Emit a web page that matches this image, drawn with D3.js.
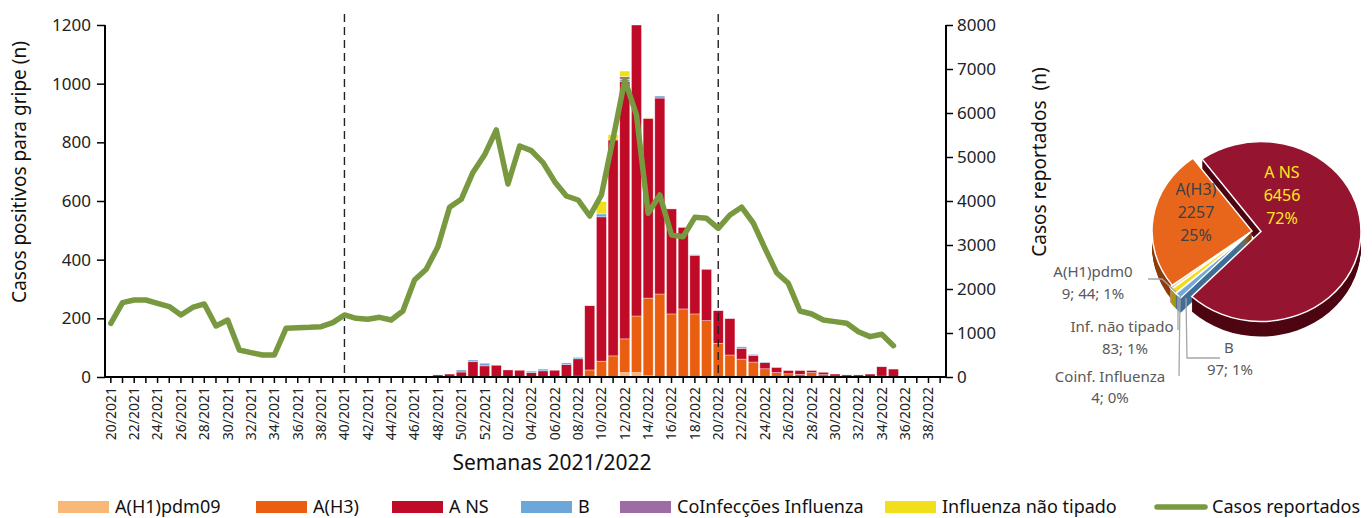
<!DOCTYPE html>
<html>
<head>
<meta charset="utf-8">
<script src="https://cdn.jsdelivr.net/npm/d3@7"></script>
<style>
  body { margin: 0; background: #fff; }
  text { font-family: "Noto Sans", sans-serif; }
</style>
</head>
<body>
<script>
const width = 1372;
const height = 518;

// weeks 20/2021 .. 39/2022
const weeks = [];
for (let w = 20; w <= 52; w++) weeks.push(String(w).padStart(2, "0") + "/2021");
for (let w = 1; w <= 39; w++) weeks.push(String(w).padStart(2, "0") + "/2022");

const keys = ["A(H1)pdm09", "A(H3)", "A NS", "B", "CoInfecções Influenza", "Influenza não tipado"];
const colors = ["#F8B878", "#EA5E10", "#C00B28", "#6DA7DA", "#9E6CA4", "#F2DF1B"];

// values from week index 28 (48/2021) to 67 (35/2022); zero elsewhere
const startIdx = 28;
const h1   = [0,0,0,0,0,0,0,0,0,0,0,0,0,0,0,0,15,15,4,0,0,0,0,0,0,0,0,0,0,0,0,0,0,0,0,0,0,0,0,0];
const h3   = [0,0,0,0,0,0,0,0,0,0,0,0,3,24,54,72,115,193,265,283,215,232,215,192,115,75,61,51,28,15,11,9,15,8,3,0,0,2,3,2];
const ans  = [7,10,17,52,38,40,24,23,15,21,23,42,59,219,492,736,877,992,613,668,358,278,200,175,111,124,37,23,21,18,11,13,7,8,7,7,7,8,32,25];
const bInf = [0,0,7,6,9,0,0,0,5,6,0,6,5,2,10,3,8,0,0,7,0,0,2,0,0,0,5,3,2,1,0,0,0,0,0,0,0,0,0,0];
const coInf= [0,0,0,0,0,0,0,0,0,0,0,0,0,0,0,0,9,0,0,0,0,0,0,0,0,0,0,0,0,0,0,0,0,0,0,0,0,0,0,0];
const naoTip=[0,0,0,0,0,0,0,0,0,0,0,0,0,0,42,15,19,0,2,0,0,0,0,0,0,0,0,0,0,0,0,0,0,0,0,0,0,0,0,0];

// casos reportados, weeks 20/2021 .. 35/2022
const reportados = [1220,1690,1750,1750,1675,1600,1410,1580,1660,1160,1295,614,553,500,500,1106,1121,1129,1144,1235,
  1410,1333,1311,1356,1295,1500,2205,2447,2962,3856,4038,4650,5050,5614,4386,5250,5144,4871,4439,4114,
  4023,3659,4136,5420,6750,5955,3720,4136,3227,3189,3629,3606,3379,3682,3860,3500,2924,2371,2129,1500,
  1432,1295,1258,1220,1030,917,970,712];

const leftTicks = [0, 200, 400, 600, 800, 1000, 1200];
const rightTicks = [0, 1000, 2000, 3000, 4000, 5000, 6000, 7000, 8000];
const dashedWeeks = ["40/2021", "20/2022"];

// pie totals
const pieLabels = ["A(H1)pdm09", "A(H3)", "A NS", "B", "Coinf. Influenza", "Inf. não tipado"];
const pieValues = [44, 2257, 6456, 97, 4, 83];

const table = weeks.map((wk, i) => {
  const j = i - startIdx;
  const g = arr => (j >= 0 && j < arr.length ? arr[j] : 0);
  return { week: wk, "A(H1)pdm09": g(h1), "A(H3)": g(h3), "A NS": g(ans), "B": g(bInf),
           "CoInfecções Influenza": g(coInf), "Influenza não tipado": g(naoTip) };
});

const svg = d3.select("body").append("svg")
  .attr("width", width).attr("height", height);

const pLeft = 105, pRight = 946, pTop = 25, pBottom = 377;

const x = d3.scaleBand().domain(weeks).range([pLeft, pRight]).paddingInner(0.14).paddingOuter(0.07);
const xc = wk => x(wk) + x.bandwidth() / 2;
const yL = d3.scaleLinear().domain([0, 1200]).range([pBottom, pTop]);
const yR = d3.scaleLinear().domain([0, 8000]).range([pBottom, pTop]);

svg.append("defs").append("clipPath").attr("id", "plotclip")
  .append("rect").attr("x", pLeft).attr("y", pTop).attr("width", pRight - pLeft).attr("height", pBottom - pTop);

// bars
const stack = d3.stack().keys(keys)(table);
const bars = svg.append("g").attr("clip-path", "url(#plotclip)");
stack.forEach((layer, k) => {
  bars.append("g").attr("fill", colors[k])
    .selectAll("rect")
    .data(layer.filter(d => d[1] - d[0] > 0))
    .join("rect")
    .attr("x", d => x(d.data.week))
    .attr("y", d => yL(d[1]))
    .attr("width", x.bandwidth())
    .attr("height", d => yL(d[0]) - yL(d[1]))
    .attr("stroke", "#fff")
    .attr("stroke-opacity", 0.6)
    .attr("stroke-width", 0.6);
});

// dashed lines
svg.selectAll(".dash").data(dashedWeeks).join("line")
  .attr("x1", d => xc(d)).attr("x2", d => xc(d))
  .attr("y1", 14).attr("y2", pBottom)
  .attr("stroke", "#222").attr("stroke-width", 1.4)
  .attr("stroke-dasharray", "8,5");

// green line
const line = d3.line()
  .x((d, i) => xc(weeks[i]))
  .y(d => yR(d));
svg.append("path").datum(reportados)
  .attr("d", line).attr("fill", "none")
  .attr("stroke", "#78993F").attr("stroke-width", 5.5)
  .attr("stroke-linejoin", "round").attr("stroke-linecap", "round");

// axes
const gL = svg.append("g").attr("transform", `translate(${pLeft},0)`)
  .call(d3.axisLeft(yL).tickValues(leftTicks).tickFormat(d3.format("d")).tickSize(8).tickPadding(6));
const gR = svg.append("g").attr("transform", `translate(${pRight},0)`)
  .call(d3.axisRight(yR).tickValues(rightTicks).tickFormat(d3.format("d")).tickSize(7).tickPadding(4));
const gX = svg.append("g").attr("transform", `translate(0,${pBottom})`)
  .call(d3.axisBottom(x).tickSize(6).tickFormat((d, i) => i % 2 === 0 ? d : ""));
[gL, gR, gX].forEach(g => {
  g.select(".domain").attr("stroke", "#000").attr("stroke-width", 2);
  g.selectAll(".tick line").attr("stroke", "#000").attr("stroke-width", 1.5);
});
gX.select(".domain").attr("d", `M${pLeft},0H${pRight}`);
gL.select(".domain").attr("d", `M0,${pTop}V${pBottom}`);
gR.select(".domain").attr("d", `M0,${pTop}V${pBottom}`);
gL.selectAll("text").attr("font-size", 17).attr("fill", "#222");
gR.selectAll("text").attr("font-size", 17).attr("fill", "#222");
gX.selectAll("text")
  .attr("font-size", 14).attr("fill", "#222")
  .attr("transform", "rotate(-90)")
  .attr("text-anchor", "end")
  .attr("x", -10).attr("y", 0).attr("dy", "0.35em");

// axis titles
svg.append("text").attr("transform", "translate(26,172) rotate(-90)")
  .attr("text-anchor", "middle").attr("font-size", 19).attr("fill", "#111")
  .text("Casos positivos para gripe (n)");
svg.append("text").attr("transform", "translate(1046,162) rotate(-90)")
  .attr("text-anchor", "middle").attr("font-size", 19).attr("fill", "#111")
  .attr("xml:space", "preserve")
  .text("Casos reportados  (n)");
svg.append("text").attr("x", 552).attr("y", 470)
  .attr("text-anchor", "middle").attr("font-size", 21).attr("fill", "#111")
  .text("Semanas 2021/2022");

// legend
const legendItems = keys.concat(["Casos reportados"]);
const legendX = [58, 256, 392, 521, 620, 885, 1155];
const lg = svg.append("g");
legendItems.forEach((name, i) => {
  const gx = legendX[i];
  if (i < keys.length) {
    lg.append("rect").attr("x", gx).attr("y", 501).attr("width", 51).attr("height", 12).attr("fill", colors[i]);
  } else {
    lg.append("line").attr("x1", gx + 2).attr("x2", gx + 50).attr("y1", 507).attr("y2", 507)
      .attr("stroke", "#78993F").attr("stroke-width", 5.5).attr("stroke-linecap", "round");
  }
  lg.append("text").attr("x", gx + 57).attr("y", 507).attr("dy", "0.35em")
    .attr("font-size", 18).attr("fill", "#111").text(name);
});

// 3D pie
const pcx = 1252, pcy = 231, pr = 100, tilt = 0.9, depth = 15;
const pieFace = ["#F7C9A4", "#E8661B", "#951530", "#72A9D8", "#A070A8", "#F2DC1A"];
const pieSide = ["#b98a66", "#8E3C0C", "#4E0613", "#3f6f99", "#6a4570", "#a8960f"];
const explode = [3, 0, 9, 3, 3, 3];
const startA = 231.2 * Math.PI / 180;
const arcs = d3.pie().sort(null).startAngle(startA).endAngle(startA + 2 * Math.PI)(pieValues);
const arcGen = d3.arc().innerRadius(0).outerRadius(pr);
const offs = arcs.map((a, i) => {
  const m = (a.startAngle + a.endAngle) / 2;
  return [explode[i] * Math.sin(m), -explode[i] * Math.cos(m) * tilt];
});
const pg = svg.append("g");
for (let k = depth; k >= 1; k--) {
  arcs.forEach((a, i) => {
    pg.append("path").attr("d", arcGen(a))
      .attr("transform", `translate(${pcx + offs[i][0]},${pcy + offs[i][1] + k}) scale(1,${tilt})`)
      .attr("fill", pieSide[i]);
  });
}
arcs.forEach((a, i) => {
  pg.append("path").attr("d", arcGen(a))
    .attr("transform", `translate(${pcx + offs[i][0]},${pcy + offs[i][1]}) scale(1,${tilt})`)
    .attr("fill", pieFace[i]).attr("stroke", "#fff").attr("stroke-width", 1.5);
});

// pie labels
const pl = svg.append("g").attr("font-size", 16);
[["A NS", 172], [String(pieValues[2]), 195], ["72%", 218]].forEach(([t, yy]) =>
  pl.append("text").attr("x", 1282).attr("y", yy).attr("dy", "0.35em").attr("text-anchor", "middle")
    .attr("fill", "#FFE81A").text(t));
[["A(H3)", 189], [String(pieValues[1]), 212], ["25%", 235]].forEach(([t, yy]) =>
  pl.append("text").attr("x", 1196).attr("y", yy).attr("dy", "0.35em").attr("text-anchor", "middle")
    .attr("fill", "#404040").text(t));

const small = svg.append("g").attr("font-size", 15).attr("fill", "#595959");
const leaders = [
  [[1148, 279], [1162, 279], [1176, 292]],
  [[1178, 330], [1178, 296]],
  [[1220, 358], [1187, 358], [1186, 298]],
  [[1179, 376], [1180, 296]]
];
leaders.forEach(pts => svg.append("path").attr("d", d3.line()(pts))
  .attr("fill", "none").attr("stroke", "#A6A6A6").attr("stroke-width", 1.3));
const smallLabels = [
  [1093, 272, "A(H1)pdm0"], [1093, 294, "9; 44; 1%"],
  [1122, 327, "Inf. não tipado"], [1125, 349, "83; 1%"],
  [1229, 348, "B"], [1230, 370, "97; 1%"],
  [1110, 377, "Coinf. Influenza"], [1110, 398, "4; 0%"]
];
smallLabels.forEach(([lx, ly, t]) => small.append("text").attr("x", lx).attr("y", ly)
  .attr("dy", "0.35em").attr("text-anchor", "middle").text(t));
</script>
</body>
</html>
